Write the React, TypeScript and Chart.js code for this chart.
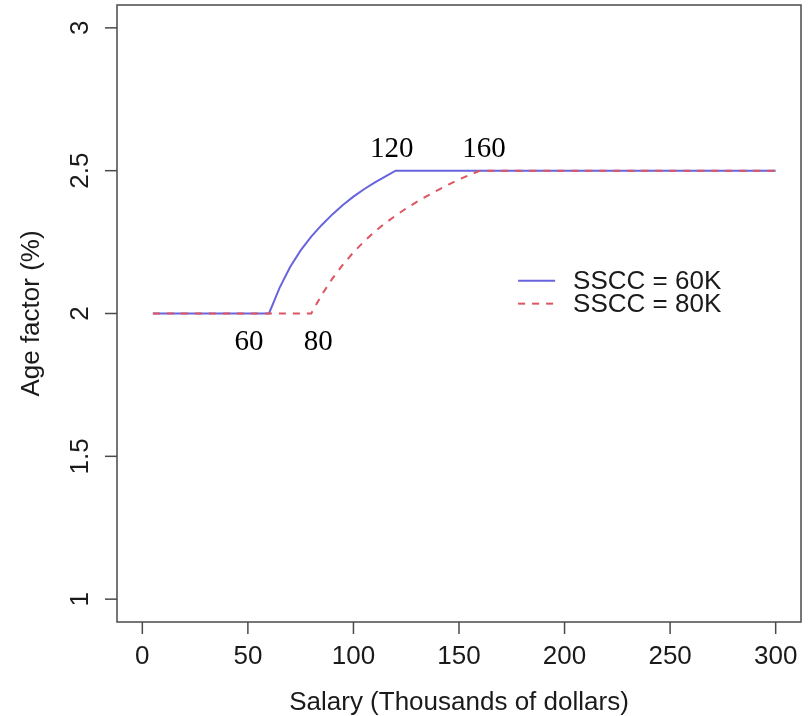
import { useEffect, useRef } from 'react';
import { Chart, registerables } from 'chart.js';

Chart.register(...registerables);

// ---- data ----
const SALARY_60 = [5, 60, 65, 70, 75, 80, 85, 90, 95, 100, 105, 110, 115, 120, 300];
const AGE_60 = [2, 2, 2.09, 2.163, 2.221, 2.269, 2.31, 2.347, 2.38, 2.409, 2.435, 2.458, 2.479, 2.5, 2.5];

const SALARY_80 = [5, 80, 85, 90, 95, 100, 105, 110, 115, 120, 125, 130, 135, 140, 145, 150, 155, 160, 300];
const AGE_80 = [2, 2, 2.066, 2.122, 2.171, 2.214, 2.252, 2.286, 2.316, 2.343, 2.368, 2.391, 2.412, 2.432, 2.451, 2.469, 2.485, 2.5, 2.5];

const SERIES_LABELS = ['SSCC = 60K', 'SSCC = 80K'];

const X_TICKS = [0, 50, 100, 150, 200, 250, 300];
const Y_TICKS = [1, 1.5, 2, 2.5, 3];
const Y_TICK_LABELS = ['1', '1.5', '2', '2.5', '3'];

const BREAK_LABELS = ['60', '80', '120', '160'];
const BREAK_X = [60, 80, 120, 160];
const BREAK_Y = [2, 2, 2.5, 2.5];

const X_TITLE = 'Salary (Thousands of dollars)';
const Y_TITLE = 'Age factor (%)';

const BLUE = 'rgb(104, 100, 222)';
const RED = 'rgb(222, 84, 96)';

const SANS = '"Liberation Sans", Arial, Helvetica, sans-serif';
const SERIF = '"Liberation Serif", "Times New Roman", serif';

const rPlotPlugin = {
  id: 'rPlot',
  afterDraw(chart: any) {
    const ctx = chart.ctx as CanvasRenderingContext2D;
    const { left, right, top, bottom } = chart.chartArea;
    const xs = chart.scales.x;
    const ys = chart.scales.y;
    ctx.save();

    // box
    ctx.strokeStyle = '#4a4a4a';
    ctx.lineWidth = 1.5;
    ctx.strokeRect(left, top, right - left, bottom - top);

    // x ticks
    ctx.fillStyle = '#1a1a1a';
    ctx.font = `26px ${SANS}`;
    ctx.textAlign = 'center';
    ctx.textBaseline = 'middle';
    X_TICKS.forEach((v) => {
      const px = xs.getPixelForValue(v);
      ctx.beginPath();
      ctx.moveTo(px, bottom);
      ctx.lineTo(px, bottom + 12);
      ctx.stroke();
      ctx.fillText(String(v), px, bottom + 35);
    });

    // y ticks (rotated labels)
    Y_TICKS.forEach((v, i) => {
      const py = ys.getPixelForValue(v);
      ctx.beginPath();
      ctx.moveTo(left, py);
      ctx.lineTo(left - 12, py);
      ctx.stroke();
      ctx.save();
      ctx.translate(left - 36, py);
      ctx.rotate(-Math.PI / 2);
      ctx.fillText(Y_TICK_LABELS[i], 0, 0);
      ctx.restore();
    });

    // axis titles
    ctx.fillText(X_TITLE, (left + right) / 2, bottom + 81);
    ctx.save();
    ctx.translate(32, (top + bottom) / 2);
    ctx.rotate(-Math.PI / 2);
    ctx.fillText(Y_TITLE, 0, 0);
    ctx.restore();

    // breakpoint labels
    ctx.font = `29px ${SERIF}`;
    ctx.fillStyle = '#000';
    const offs = [
      [-20, 29],
      [7, 29],
      [-4, -21],
      [4, -21],
    ];
    BREAK_LABELS.forEach((t, i) => {
      const px = xs.getPixelForValue(BREAK_X[i]);
      const py = ys.getPixelForValue(BREAK_Y[i]);
      ctx.fillText(t, px + offs[i][0], py + offs[i][1]);
    });

    // legend (R style)
    const ds = chart.data.datasets;
    const lx = xs.getPixelForValue(178);
    const ly0 = ys.getPixelForValue(2.115);
    ctx.font = `26px ${SANS}`;
    ctx.textAlign = 'left';
    ctx.fillStyle = '#1a1a1a';
    [0, 1].forEach((k) => {
      const d = ds[k];
      const y = ly0 + k * 23;
      ctx.save();
      ctx.strokeStyle = d.borderColor;
      ctx.lineWidth = d.borderWidth;
      ctx.setLineDash(d.borderDash || []);
      ctx.beginPath();
      ctx.moveTo(lx, y);
      ctx.lineTo(lx + 37, y);
      ctx.stroke();
      ctx.restore();
      ctx.fillText(d.label, lx + 55, y + 1);
    });

    ctx.restore();
  },
};

export default function App() {
  const ref = useRef<HTMLCanvasElement | null>(null);

  useEffect(() => {
    document.body.style.margin = '0';
    const canvas = ref.current!;
    const chart = new Chart(canvas, {
      type: 'line',
      data: {
        datasets: [
          {
            label: SERIES_LABELS[0],
            data: SALARY_60.map((x, i) => ({ x, y: AGE_60[i] })),
            borderColor: BLUE,
            borderWidth: 2,
            pointRadius: 0,
            fill: false,
            tension: 0,
            order: 1,
          },
          {
            label: SERIES_LABELS[1],
            data: SALARY_80.map((x, i) => ({ x, y: AGE_80[i] })),
            borderColor: RED,
            borderWidth: 2,
            borderDash: [7, 7],
            pointRadius: 0,
            fill: false,
            tension: 0,
            order: 0,
          },
        ],
      },
      options: {
        responsive: false,
        animation: false,
        layout: { padding: { left: 117, right: 8, top: 5, bottom: 94 } },
        plugins: { legend: { display: false }, tooltip: { enabled: false } },
        scales: {
          x: { type: 'linear', min: -12, max: 312, display: false },
          y: { type: 'linear', min: 0.92, max: 3.08, display: false },
        },
      },
      plugins: [rPlotPlugin],
    });
    return () => chart.destroy();
  }, []);

  return (
    <div style={{ position: 'absolute', left: 0, top: 0, width: 809, height: 716, background: '#fff' }}>
      <canvas ref={ref} width={809} height={716} style={{ width: 809, height: 716, display: 'block' }} />
    </div>
  );
}
